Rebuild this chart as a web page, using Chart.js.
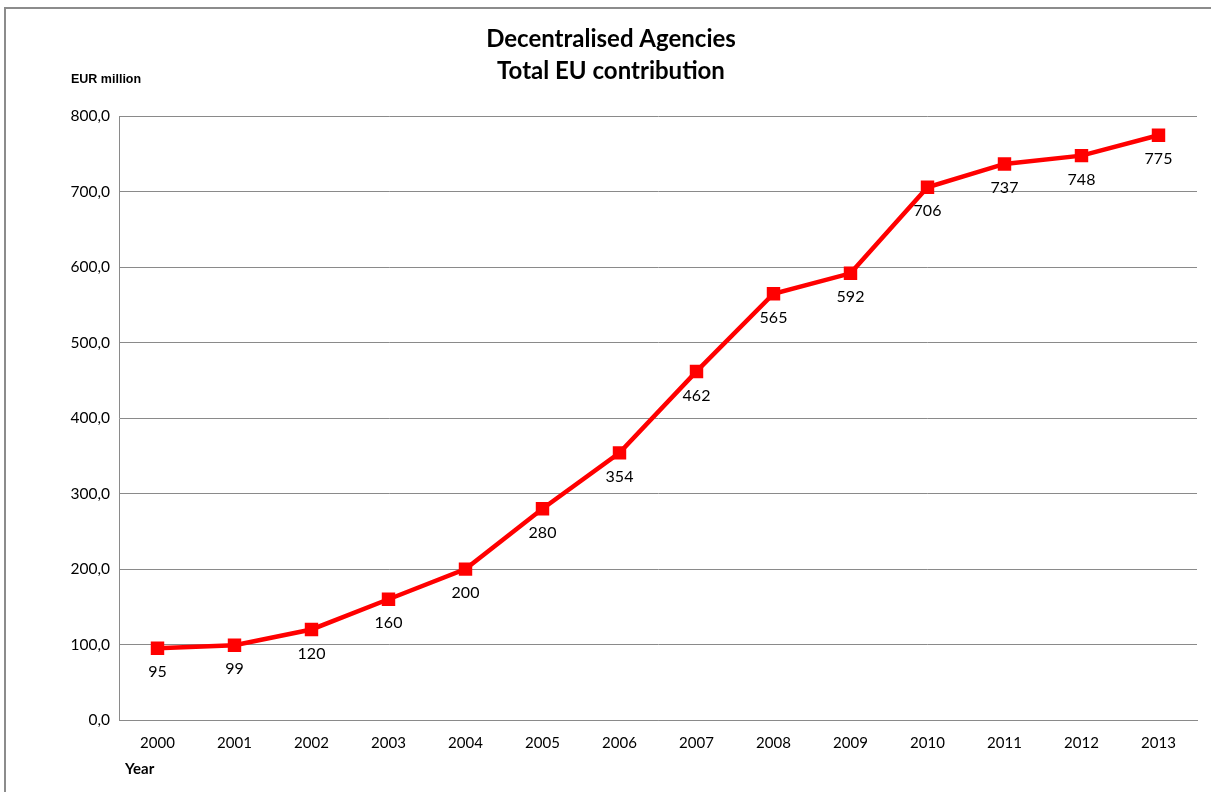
<!DOCTYPE html>
<html>
<head>
<meta charset="utf-8">
<script src="https://cdn.jsdelivr.net/npm/chart.js@4"></script>
<style>
  html, body { margin: 0; padding: 0; background: #fff; }
  #wrap { width: 1211px; height: 792px; }
</style>
</head>
<body>
<div id="wrap"><canvas id="chart"></canvas></div>
<script>
// values
const years = ['2000', '2001', '2002', '2003', '2004', '2005', '2006', '2007', '2008', '2009', '2010', '2011', '2012', '2013'];
const contribution = [95, 99, 120, 160, 200, 280, 354, 462, 565, 592, 706, 737, 748, 775];
const titleLines = ['Decentralised Agencies', 'Total EU contribution'];
const yAxisLabel = 'EUR million';
const xAxisLabel = 'Year';

const FONT = 'Lato, "Open Sans", sans-serif';
const GRID = '#8a8a8a';

// frame, axis captions and the value labels under each point
const extras = {
  id: 'extras',
  beforeDraw(chart) {
    const ctx = chart.ctx;
    ctx.save();
    ctx.strokeStyle = '#8c8c8c';
    ctx.lineWidth = 2;
    ctx.beginPath();
    ctx.moveTo(5, 800);
    ctx.lineTo(5, 8);
    ctx.lineTo(1230, 8);
    ctx.stroke();
    ctx.restore();
  },
  afterDatasetsDraw(chart) {
    const ctx = chart.ctx;
    const area = chart.chartArea;
    ctx.save();
    ctx.fillStyle = '#000';
    ctx.font = '16px ' + FONT;
    ctx.textAlign = 'center';
    ctx.textBaseline = 'middle';
    chart.getDatasetMeta(0).data.forEach((pt, i) => {
      ctx.fillText(String(contribution[i]), pt.x, pt.y + 24);
    });
    ctx.font = 'bold 12.5px "Liberation Sans", Arial, sans-serif';
    ctx.textAlign = 'left';
    ctx.fillText(yAxisLabel, area.left - 48, area.top - 37);
    ctx.font = 'bold 15px ' + FONT;
    ctx.fillText(xAxisLabel, area.left + 6, area.bottom + 49);
    ctx.restore();
  }
};

new Chart(document.getElementById('chart'), {
  type: 'line',
  data: {
    labels: years,
    datasets: [{
      data: contribution,
      borderColor: '#ff0000',
      backgroundColor: '#ff0000',
      borderWidth: 4.5,
      pointStyle: 'rect',
      pointRadius: 9.5,
      pointBorderWidth: 0,
      pointHoverRadius: 9.5,
      tension: 0
    }]
  },
  options: {
    responsive: true,
    maintainAspectRatio: false,
    animation: false,
    layout: { padding: { top: 8, left: 25, right: 14, bottom: 0 } },
    plugins: {
      legend: { display: false },
      tooltip: { enabled: false },
      title: {
        display: true,
        text: titleLines,
        color: '#000',
        font: { family: FONT, size: 24, weight: 'bold', lineHeight: 1.3 },
        padding: { top: 16, bottom: 30 }
      }
    },
    scales: {
      x: {
        offset: true,
        grid: { display: false, drawTicks: false, offset: true },
        border: { color: GRID, width: 1 },
        ticks: { color: '#000', font: { family: FONT, size: 15 }, padding: 14, maxRotation: 0 },
        afterFit(scale) { scale.height = 72; }
      },
      y: {
        min: 0,
        max: 800,
        grid: { color: GRID, lineWidth: 1, drawTicks: false },
        border: { color: GRID, width: 1 },
        ticks: {
          stepSize: 100,
          color: '#000',
          font: { family: FONT, size: 15.5 },
          padding: 9,
          callback: (v) => v.toFixed(1).replace('.', ',')
        },
        afterFit(scale) { scale.width = 94; }
      }
    }
  },
  plugins: [extras]
});
</script>
</body>
</html>
